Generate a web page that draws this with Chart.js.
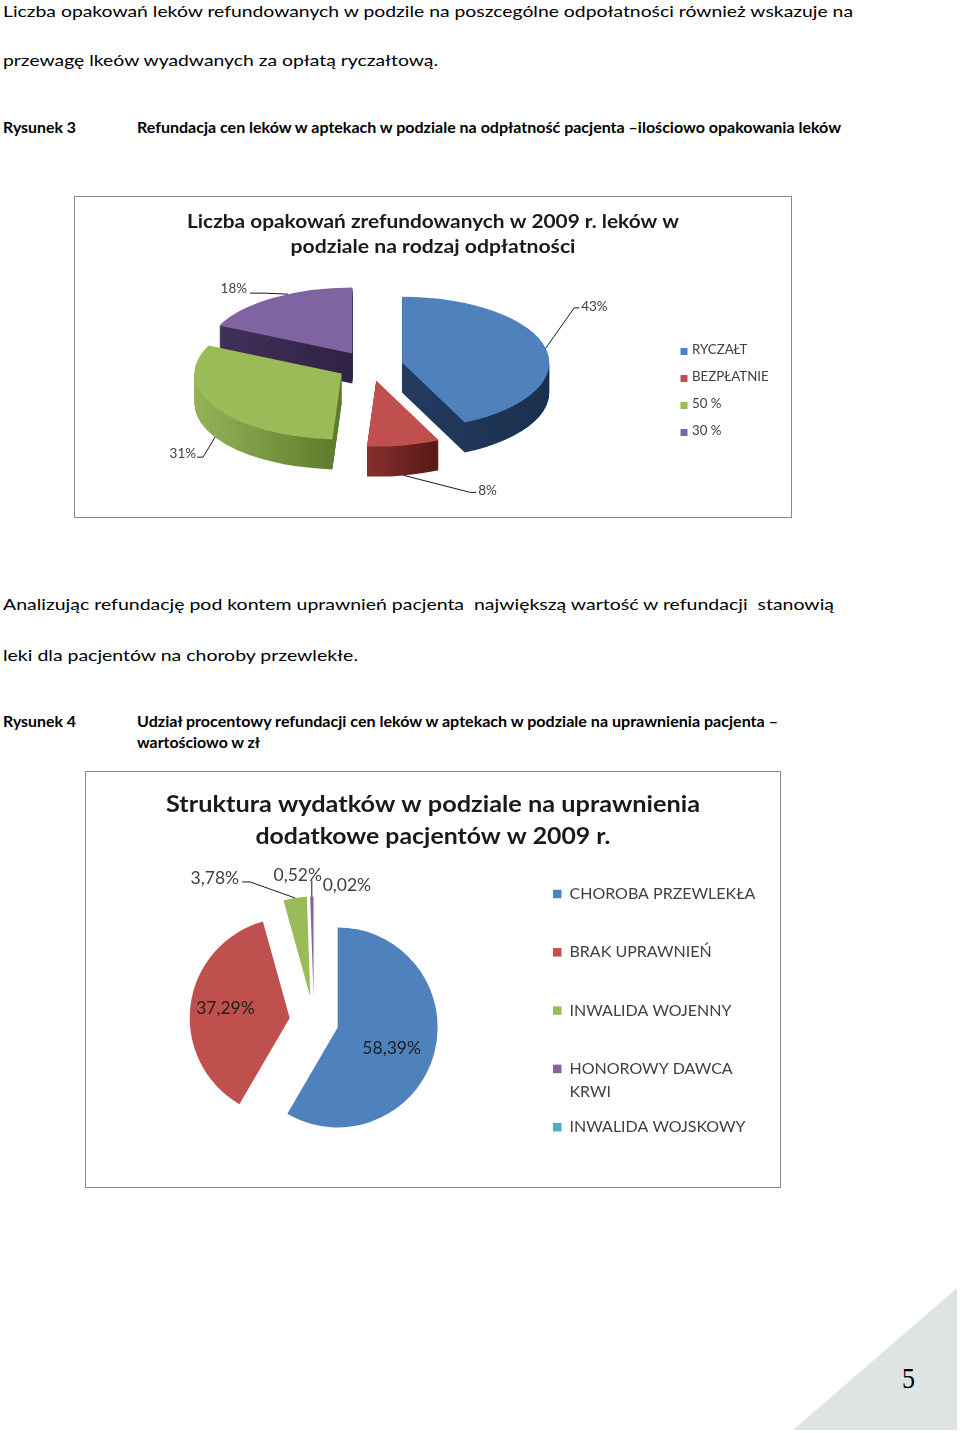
<!DOCTYPE html>
<html><head><meta charset="utf-8">
<script src="https://cdn.jsdelivr.net/npm/chart.js"></script>
<style>
html,body{margin:0;padding:0;background:#fff;}
body{width:960px;height:1433px;position:relative;overflow:hidden;font-family:Lato,"Open Sans",sans-serif;color:#000;}
.t{position:absolute;white-space:pre;line-height:1;transform-origin:0 0;font-size:16px;}
.t.b{font-weight:bold;}
.t i{display:inline-block;width:0;height:0;vertical-align:baseline;}
.box{position:absolute;border:1px solid #888;box-sizing:border-box;background:#fff;}
.box canvas{position:absolute;left:0;top:0;}
#tri{position:absolute;left:793px;top:1288px;width:164px;height:142px;background:#dde4e2;clip-path:polygon(100% 0,100% 100%,0 100%);}
#pg{font-family:"Liberation Serif","DejaVu Serif",serif;font-size:29px;}
</style>
</head>
<body>
<div class="t" data-x="3" data-b="17" data-w="850"><span>Liczba opakowań leków refundowanych w podzile na poszcególne odpołatności również wskazuje na</span><i></i></div>
<div class="t" data-x="3" data-b="66" data-w="435"><span>przewagę lkeów wyadwanych za opłatą ryczałtową.</span><i></i></div>
<div class="t b" data-x="3" data-b="133" data-w="73"><span>Rysunek 3</span><i></i></div>
<div class="t b" data-x="137" data-b="133" data-w="704"><span>Refundacja cen leków w aptekach w podziale na odpłatność pacjenta –ilościowo opakowania leków</span><i></i></div>

<div class="box" style="left:74px;top:196px;width:718px;height:322px;"><canvas id="c1" width="716" height="320" style="width:716px;height:320px"></canvas></div>

<div class="t" data-x="3" data-b="610" data-w="831"><span>Analizując refundację pod kontem uprawnień pacjenta  największą wartość w refundacji  stanowią</span><i></i></div>
<div class="t" data-x="3" data-b="661" data-w="355"><span>leki dla pacjentów na choroby przewlekłe.</span><i></i></div>
<div class="t b" data-x="3" data-b="727" data-w="73"><span>Rysunek 4</span><i></i></div>
<div class="t b" data-x="137" data-b="727" data-w="641"><span>Udział procentowy refundacji cen leków w aptekach w podziale na uprawnienia pacjenta –</span><i></i></div>
<div class="t b" data-x="137" data-b="748" data-w="123"><span>wartościowo w zł</span><i></i></div>

<div class="box" style="left:85px;top:771px;width:696px;height:417px;"><canvas id="c2" width="694" height="415" style="width:694px;height:415px"></canvas></div>

<div id="tri"></div>
<div class="t" id="pg" data-x="902" data-b="1388" data-w="13"><span>5</span><i></i></div>

<script>
// ---------- DATA ----------
const cats1 = ['RYCZAŁT', 'BEZPŁATNIE', '50 %', '30 %'];
const vals1 = [43, 8, 31, 18];
const title1 = ['Liczba opakowań zrefundowanych w 2009 r. leków w', 'podziale na rodzaj odpłatności'];

const cats2 = ['CHOROBA PRZEWLEKŁA', 'BRAK UPRAWNIEŃ', 'INWALIDA WOJENNY', ['HONOROWY DAWCA', 'KRWI'], 'INWALIDA WOJSKOWY'];
const vals2 = [58.39, 37.29, 3.78, 0.52, 0.02];
const title2 = ['Struktura wydatków w podziale na uprawnienia', 'dodatkowe pacjentów w 2009 r.'];

// ---------- STYLES ----------
const top1 = ['#4F81BD', '#C0504D', '#9BBB59', '#8064A2'];
const sideL1 = ['#223b5f', '#87302e', '#94b358', '#40305a'];
const sideR1 = ['#1b304e', '#561817', '#5c7a2b', '#2f2244'];
const top2 = ['#4F81BD', '#C0504D', '#9BBB59', '#8064A2', '#4BACC6'];

// ---------- page text fitting ----------
document.querySelectorAll('.t').forEach(d => {
  const x = +d.dataset.x, b = +d.dataset.b, w = +d.dataset.w;
  d.style.left = x + 'px'; d.style.top = '0px';
  const sp = d.querySelector('span'), m = d.querySelector('i');
  const sw = sp.getBoundingClientRect().width;
  if (w && sw) d.style.transform = 'scaleX(' + (w / sw) + ')';
  const mt = m.getBoundingClientRect().top;
  d.style.top = (b - mt) + 'px';
});

Chart.defaults.font.family = 'Lato';

function fitText(ctx, text, x, y, w, align) {
  const mw = ctx.measureText(text).width;
  const s = w ? w / mw : 1;
  ctx.save();
  ctx.translate(x, y); ctx.scale(s, 1);
  ctx.textAlign = align; ctx.fillText(text, 0, 0);
  ctx.restore();
}

// ---------- plugin factories ----------
function makePie3d(cfg) {
  return {
    id: 'pie3d',
    beforeDatasetsDraw(chart) {
      const ctx = chart.ctx;
      const arcs = chart.getDatasetMeta(0).data;
      const ds = chart.data.datasets[0];
      const k = cfg.tilt, depth = cfg.depth, ex = cfg.explode;
      if (!arcs.length) return;
      const cx = arcs[0].x, cy = arcs[0].y;
      const drawOne = (el, fill) => {
        const mid = (el.startAngle + el.endAngle) / 2;
        ctx.save();
        ctx.translate(Math.cos(mid) * ex, Math.sin(mid) * ex);
        const p = Object.create(el);
        p.options = Object.assign({}, el.options, {backgroundColor: fill, borderWidth: 0, offset: 0});
        el.draw.call(p, ctx);
        ctx.restore();
      };
      const squash = () => { ctx.translate(cx, cy); ctx.scale(1, k); ctx.translate(-cx, -cy); };
      if (depth > 0) {
        const grads = arcs.map((el, i) => {
          let mn = cx, mx = cx;
          for (let s = 0; s <= 40; s++) {
            const a = el.startAngle + (el.endAngle - el.startAngle) * s / 40;
            const xx = cx + Math.cos(a) * el.outerRadius;
            mn = Math.min(mn, xx); mx = Math.max(mx, xx);
          }
          const g = ctx.createLinearGradient(mn, 0, mx, 0);
          g.addColorStop(0, cfg.sideL[i]); g.addColorStop(1, cfg.sideR[i]);
          return g;
        });
        for (let d = depth; d >= 1; d--) {
          ctx.save(); ctx.translate(0, d); squash();
          arcs.forEach((el, i) => drawOne(el, grads[i]));
          ctx.restore();
        }
      }
      ctx.save(); squash();
      arcs.forEach((el, i) => drawOne(el, ds.backgroundColor[i]));
      ctx.restore();
      return false;
    },
    afterDraw(chart) {
      const ctx = chart.ctx;
      const arcs = chart.getDatasetMeta(0).data;
      const data = chart.data.datasets[0].data;
      const k = cfg.tilt, depth = cfg.depth, ex = cfg.explode;
      // title
      ctx.save();
      ctx.fillStyle = cfg.titleColor;
      ctx.font = 'bold ' + cfg.titleSize + 'px Lato';
      ctx.textBaseline = 'middle';
      cfg.title.forEach((ln, j) => fitText(ctx, ln, chart.width / 2, cfg.titleY[j], cfg.titleW[j], 'center'));
      ctx.restore();
      // data labels
      ctx.save();
      ctx.font = cfg.labelSize + 'px Lato';
      ctx.textBaseline = 'middle';
      ctx.lineWidth = 1;
      ctx.strokeStyle = cfg.lineColor;
      cfg.labels.forEach((it, i) => {
        const el = arcs[i];
        const mid = (el.startAngle + el.endAngle) / 2;
        const vx = el.x + Math.cos(mid) * ex, vy = el.y + Math.sin(mid) * ex * k;
        const f = (typeof it.at === 'number') ? it.at : 0.5;
        const at = el.startAngle + (el.endAngle - el.startAngle) * f;
        const text = cfg.format(data[i]);
        ctx.fillStyle = it.color || cfg.labelColor;
        if (it.inside) {
          const rr = el.outerRadius * it.inside;
          ctx.textAlign = 'center';
          ctx.fillText(text, vx + Math.cos(at) * rr, vy + Math.sin(at) * rr * k);
          return;
        }
        const ax = vx + Math.cos(at) * el.outerRadius;
        let ay = vy + Math.sin(at) * el.outerRadius * k;
        if (Math.sin(at) > 0) ay += depth;
        let px = ax, py = ay;
        if (it.elbow) {
          const ex1 = ax + it.elbow[0], ey1 = ay + it.elbow[1];
          const tx = ex1 + (it.tick || 0);
          ctx.beginPath();
          ctx.moveTo(ax, ay); ctx.lineTo(ex1, ey1); ctx.lineTo(tx, ey1);
          ctx.stroke();
          px = tx; py = ey1;
        }
        ctx.textAlign = it.align || 'left';
        ctx.fillText(text, px + it.text[0], py + it.text[1]);
      });
      ctx.restore();
      // legend
      const L = cfg.legend, ds = chart.data.datasets[0];
      ctx.save();
      ctx.font = L.size + 'px Lato';
      ctx.textBaseline = 'middle'; ctx.textAlign = 'left';
      chart.data.labels.forEach((lab, i) => {
        const y = L.y + i * L.step;
        ctx.fillStyle = ds.backgroundColor[i];
        ctx.fillRect(L.boxX, y - L.box / 2 + L.boxDy, L.box, L.box);
        ctx.fillStyle = L.color;
        const lines = Array.isArray(lab) ? lab : [lab];
        lines.forEach((ln, j) => ctx.fillText(ln, L.textX, y + j * L.lineH));
      });
      ctx.restore();
    }
  };
}

// ---------- chart 1 ----------
new Chart(document.getElementById('c1'), {
  type: 'pie',
  data: {labels: cats1, datasets: [{data: vals1, backgroundColor: top1, borderWidth: 0, offset: 0, radius: 147}]},
  options: {
    responsive: false, animation: false, events: [],
    layout: {padding: {left: 0, right: 126, top: 18, bottom: 0}},
    plugins: {legend: {display: false}, tooltip: {enabled: false}, title: {display: false}}
  },
  plugins: [makePie3d({
    tilt: 0.449, depth: 30, explode: 33, sideL: sideL1, sideR: sideR1,
    title: title1, titleSize: 19, titleY: [25, 50], titleW: [492, 285], titleColor: '#1a1a1a',
    labelSize: 13.5, labelColor: '#404040', lineColor: '#1a1a1a',
    format: v => v + '%',
    labels: [
      {elbow: [28.5, -40.5], tick: 5, text: [2, -1], align: 'left'},
      {elbow: [66.5, 17], tick: 6, text: [2, -2], align: 'left'},
      {elbow: [-12, 20], tick: -6, text: [-1, -4], align: 'right'},
      {at: 0.6, elbow: [-24, -1], tick: -14, text: [-3, -4], align: 'right'}
    ],
    legend: {size: 13.3, color: '#404040', boxX: 605.5, box: 7, boxDy: 1.5, textX: 617, y: 153, step: 27, lineH: 16}
  })]
});

// ---------- chart 2 ----------
new Chart(document.getElementById('c2'), {
  type: 'pie',
  data: {labels: cats2, datasets: [{data: vals2, backgroundColor: top2, borderWidth: 0, offset: 0, radius: 100}]},
  options: {
    responsive: false, animation: false, events: [],
    layout: {padding: {left: 0, right: 238, top: 83, bottom: 0}},
    plugins: {legend: {display: false}, tooltip: {enabled: false}, title: {display: false}}
  },
  plugins: [makePie3d({
    tilt: 1, depth: 0, explode: 24.5,
    title: title2, titleSize: 23, titleY: [33, 65], titleW: [534, 355], titleColor: '#1a1a1a',
    labelSize: 17.5, labelColor: '#404040', lineColor: '#1a1a1a',
    format: v => v.toFixed(2).replace('.', ',') + '%',
    labels: [
      {at: 0.53, inside: 0.58, color: '#202020'},
      {at: 0.51, inside: 0.65, color: '#202020'},
      {elbow: [-45, -16], tick: -8, text: [-3, -4], align: 'right'},
      {elbow: [0, -16], tick: 0, text: [-14, -5], align: 'center'},
      {text: [33, -11], align: 'center'}
    ],
    legend: {size: 16, color: '#404040', boxX: 467, box: 8.5, boxDy: 0, textX: 483.5, y: 122, step: 58.3, lineH: 23}
  })]
});
</script>
</body></html>
